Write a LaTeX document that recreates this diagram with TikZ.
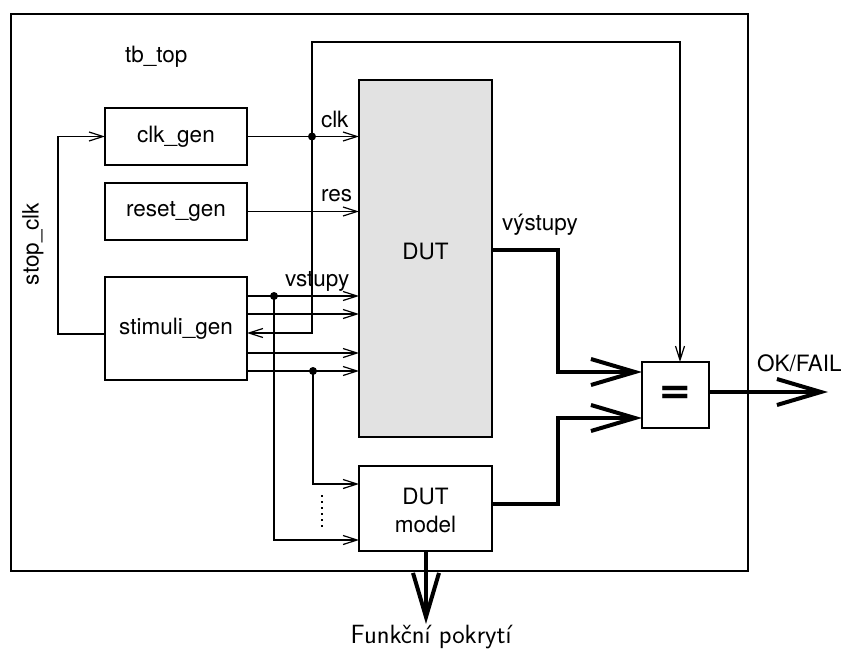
\documentclass[tikz,border=0pt]{standalone}
\usepackage{fontspec}
\setmainfont{TeX Gyre Heros}
\usetikzlibrary{arrows.meta}
\definecolor{dutgray}{HTML}{E2E2E2}
\begin{document}
\begin{tikzpicture}[x=1pt,y=-1pt,
  every node/.style={font=\fontsize{22.5}{27}\selectfont, inner sep=0pt, outer sep=0pt},
  blk/.style={draw, line width=1.3pt, rectangle},
  thin/.style={line width=1.2pt},
  arr/.style={thin, -{Straight Barb[length=14pt,width=9pt,line width=1.2pt]}},
  big/.style={line width=4pt, -{Straight Barb[length=44pt,width=26pt]}},
  dot/.style={circle, fill, minimum size=8pt}]
\useasboundingbox (0,0) rectangle (843,648);
% frame
\node[blk, minimum width=737pt, minimum height=557pt] (tb) at (379.5,292.5) {};
\node[anchor=base west] (tbl) at (125,62) {tb\_top};
% blocks
\node[blk, minimum width=142pt, minimum height=57pt] (clkgen) at (176,136.5) {clk\_gen};
\node[blk, minimum width=142pt, minimum height=57pt] (resgen) at (176,211.5) {reset\_gen};
\node[blk, minimum width=142pt, minimum height=103pt] (stim) at (176,328.5) {stimuli\_gen};
\node[blk, fill=dutgray, minimum width=133pt, minimum height=357pt] (dut) at (425.5,258.5) {};
\node[anchor=base] (dutl) at (425.5,259) {DUT};
\node[blk, minimum width=133pt, minimum height=85pt] (model) at (425.5,508.5) {};
\node[anchor=base] (modl1) at (425.5,504) {DUT};
\node[anchor=base] (modl2) at (425.5,532) {model};
\node[blk, minimum width=67pt, minimum height=66pt] (eq) at (675.5,395) {\fontsize{40}{40}\selectfont\bfseries\scalebox{1.35}[1.1]{=}};
% labels
\node[anchor=base west] (clkl) at (321,127) {clk};
\node[anchor=base west] (resl) at (321,201) {res};
\node[anchor=base west] (vstl) at (285,286) {vstupy};
\node[anchor=base west] (vysl) at (502,230) {výstupy};
\node[anchor=base west] (okl) at (757,371) {OK/FAIL};
\node[rotate=90] (stopl) at (33,244) {stop\_clk};
\node[anchor=base, font=\sffamily\fontsize{21}{25}\selectfont] (fkl) at (431,643) {\scalebox{1.256}{Funkční pokrytí}};
% dots
\node[dot] (d1) at (312,136.5) {};
\node[dot] (d2) at (274,296) {};
\node[dot] (d3) at (313,371) {};
% helper coordinates
\coordinate (fb1) at (312,42);
\coordinate (fb2) at (680,42);
\coordinate (fb3) at (312,333);
\coordinate (sc1) at (58,334);
\coordinate (sc2) at (58,136.5);
\coordinate (y2) at (0,314);
\coordinate (y4) at (0,353);
\coordinate (m1) at (274,540);
\coordinate (m2) at (313,484);
\coordinate (dt1) at (322,495);
\coordinate (dt2) at (322,528);
\coordinate (o1) at (558,250);
\coordinate (o2) at (558,372);
\coordinate (p1) at (558,504);
\coordinate (p2) at (558,418);
\coordinate (ok) at (828,392);
\coordinate (fk) at (426,624);
% thin connectors
\draw[arr] (clkgen.east) -- (dut.west |- clkgen.east);
\draw[arr] (resgen.east) -- (dut.west |- resgen.east);
\draw[arr] (d1.center) -- (fb1) -- (fb2) -- (fb2 |- eq.north);
\draw[arr] (d1.center) -- (fb3) -- (stim.east |- fb3);
\draw[arr] (stim.west |- sc1) -- (sc1) -- (sc2) -- (clkgen.west);
\draw[arr] (stim.east |- d2) -- (dut.west |- d2);
\draw[arr] (stim.east |- y2) -- (dut.west |- y2);
\draw[arr] (stim.east |- y4) -- (dut.west |- y4);
\draw[arr] (stim.east |- d3) -- (dut.west |- d3);
\draw[arr] (d2.center) -- (m1) -- (model.west |- m1);
\draw[arr] (d3.center) -- (m2) -- (model.west |- m2);
\draw[thin, dash pattern=on 1.5pt off 4.5pt] (dt1) -- (dt2);
% thick connectors
\draw[big] (dut.east |- o1) -- (o1) -- (o2) -- (eq.west |- o2);
\draw[big] (model.east |- p1) -- (p1) -- (p2) -- (eq.west |- p2);
\draw[big] (eq.east |- ok) -- (ok);
\draw[big] (model.south -| fk) -- (fk);
\end{tikzpicture}
\end{document}
